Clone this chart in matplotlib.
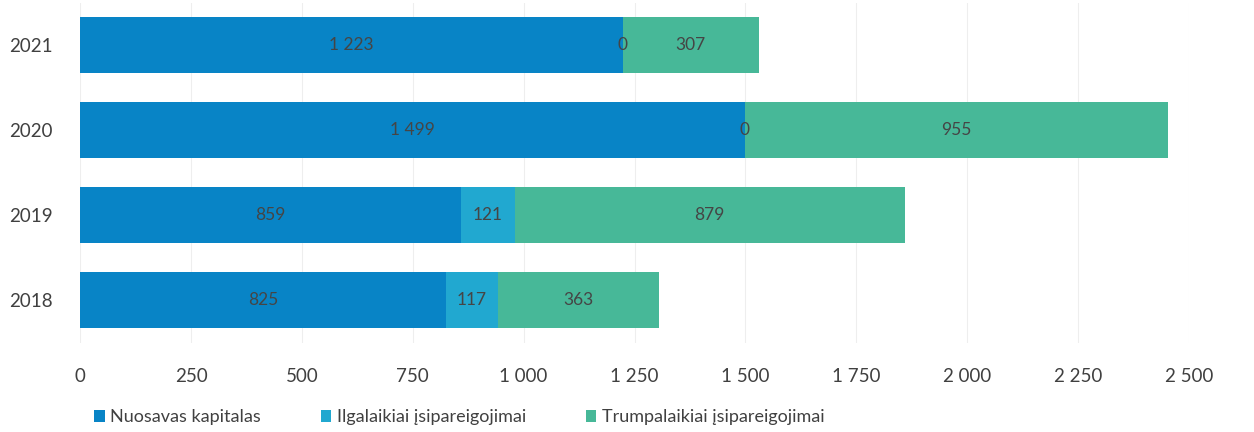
import matplotlib
matplotlib.use("Agg")
import matplotlib.pyplot as plt

years = ["2018", "2019", "2020", "2021"]
equity = [825, 859, 1499, 1223]
long_term = [117, 121, 0, 0]
short_term = [363, 879, 955, 307]
series_names = ["Nuosavas kapitalas", "Ilgalaikiai įsipareigojimai", "Trumpalaikiai įsipareigojimai"]
colors = ["#0884C6", "#21A8D0", "#47B898"]
xticks = [0, 250, 500, 750, 1000, 1250, 1500, 1750, 2000, 2250, 2500]

def fmt(v):
    return f"{v:,}".replace(",", " ")

plt.rcParams['font.family'] = ['Lato', 'DejaVu Sans']

fig = plt.figure(figsize=(12.54, 4.32), dpi=100)
ax = fig.add_axes([0.064, 0.207, 0.884, 0.787])

ypos = list(range(len(years)))
left = [0] * len(years)
for vals, col, name in zip([equity, long_term, short_term], colors, series_names):
    ax.barh(ypos, vals, left=left, height=0.66, color=col, label=name, zorder=2)
    for y, v, l in zip(ypos, vals, left):
        ax.text(l + v / 2, y, fmt(v), ha='center', va='center', fontsize=12.5, color='#454545', zorder=3)
    left = [a + b for a, b in zip(left, vals)]

ax.set_xlim(0, 2500)
ax.set_ylim(-0.5, 3.5)
ax.set_yticks(ypos)
ax.set_yticklabels(years, fontsize=13.5, color='#404040')
ax.set_xticks(xticks)
ax.set_xticklabels([fmt(t) for t in xticks], fontsize=13.5, color='#404040')
ax.tick_params(axis='both', length=0)
ax.tick_params(axis='x', pad=18)
ax.tick_params(axis='y', pad=20)
for s in ax.spines.values():
    s.set_visible(False)
ax.grid(axis='x', color='#eeeeee', linewidth=0.8, zorder=0)
ax.set_axisbelow(True)

fig.legend(loc='lower left', bbox_to_anchor=(0.062, -0.022), ncol=3, frameon=False,
           fontsize=13, handlelength=0.6, handleheight=0.6, handletextpad=0.3,
           columnspacing=3.3, labelcolor='#404040')

fig.savefig("out.png", dpi=100)
